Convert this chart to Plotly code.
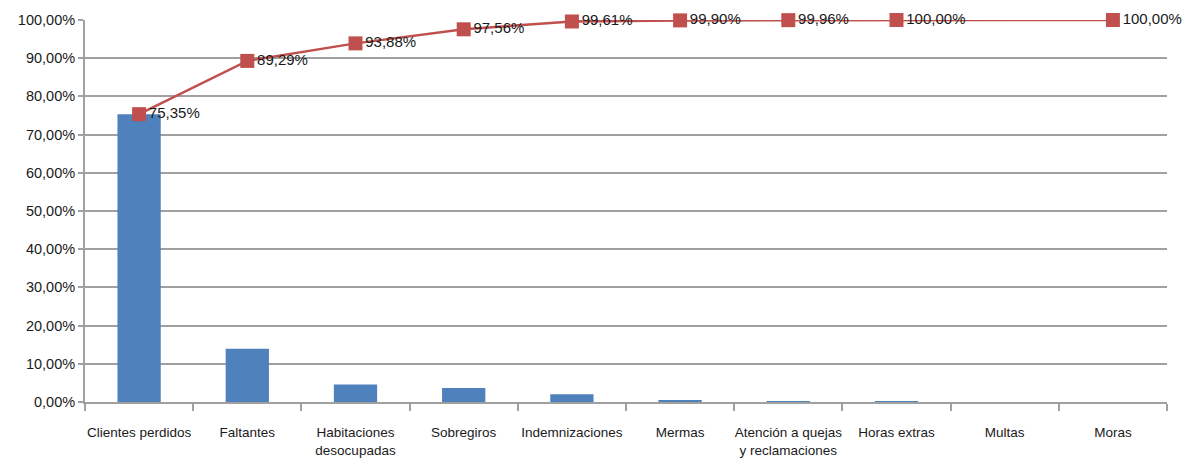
import plotly.graph_objects as go

categories = ["Clientes perdidos", "Faltantes", "Habitaciones<br>desocupadas", "Sobregiros",
              "Indemnizaciones", "Mermas", "Atención a quejas<br>y reclamaciones", "Horas extras",
              "Multas", "Moras"]
percent = [75.35, 13.94, 4.59, 3.68, 2.05, 0.29, 0.06, 0.04, 0.0, 0.0]
cumulative = [75.35, 89.29, 93.88, 97.56, 99.61, 99.90, 99.96, 100.00, None, 100.00]
y_ticks = [0, 10, 20, 30, 40, 50, 60, 70, 80, 90, 100]
y_ticktext = ["0,00%", "10,00%", "20,00%", "30,00%", "40,00%", "50,00%", "60,00%",
              "70,00%", "80,00%", "90,00%", "100,00%"]

cum_text = [("" if v is None else f"{v:.2f}%".replace(".", ",")) for v in cumulative]

FONT = "Liberation Sans, Arial"

fig = go.Figure()
fig.add_trace(go.Bar(x=categories, y=percent, marker=dict(color="#4F81BD", line=dict(width=0)),
                     width=0.4, hoverinfo="skip"))
fig.add_trace(go.Scatter(x=categories, y=cumulative, mode="lines+markers+text",
                         text=cum_text, textposition="middle right",
                         textfont=dict(family=FONT, size=15, color="#1a1a1a"),
                         line=dict(color="#C0504D", width=2.5),
                         marker=dict(symbol="square", size=14, color="#C0504D"),
                         connectgaps=True, cliponaxis=False))

fig.update_layout(
    width=1187, height=466, showlegend=False,
    margin=dict(l=85, r=20, t=20, b=64),
    plot_bgcolor="white", paper_bgcolor="white",
    font=dict(family=FONT, color="#1a1a1a"),
    bargap=0.6,
)
fig.update_xaxes(type="category", range=[-0.5, len(categories) - 0.5],
                 showline=True, linecolor="#A0A0A0", linewidth=2,
                 ticks="outside", tickson="boundaries", ticklen=7, tickcolor="#A0A0A0", tickwidth=2,
                 tickfont=dict(size=13.5), tickangle=0, ticklabelstandoff=17,
                 automargin=False, showgrid=False)
fig.update_yaxes(range=[0, 100], tickvals=y_ticks, ticktext=y_ticktext,
                 showline=True, linecolor="#A0A0A0", linewidth=2,
                 showgrid=True, gridcolor="#A0A0A0", gridwidth=2,
                 ticks="outside", ticklen=5, tickcolor="#A0A0A0", tickwidth=2,
                 tickfont=dict(size=14.5), zeroline=False, automargin=False)

fig.write_html("out.html")
